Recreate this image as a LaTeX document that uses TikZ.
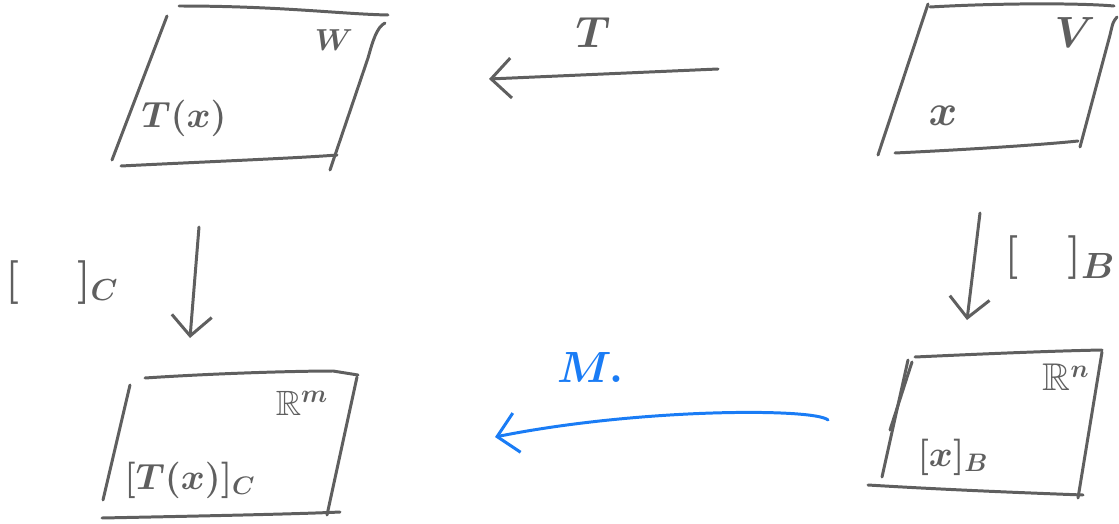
\documentclass[tikz,border=0pt]{standalone}
\usepackage{amssymb}
\usepackage{xcolor}
\usepackage{tikz}
\usetikzlibrary{arrows.meta}

\definecolor{ink}{HTML}{5F5F5F}
\definecolor{blueink}{HTML}{1A7CF5}

\newcommand{\fs}[1]{\fontsize{#1}{#1}\selectfont\boldmath}

\begin{document}
\begin{tikzpicture}[
  x=0.02cm, y=-0.02cm,
  pen/.style={draw=ink, line width=1.7pt, line cap=round, line join=round},
  lab/.style={text=ink, inner sep=0pt},
  arr/.style={pen, -{Straight Barb[length=4mm, width=8mm, line width=1.7pt]}},
  barr/.style={arr, draw=blueink}
]
\useasboundingbox (0,0) rectangle (1119,524);

% W (top left)
\draw[pen] (179,6) .. controls (280,6) and (340,14) .. (388,15);
\draw[pen] (167,16) -- (112,160);
\draw[pen] (385,23) .. controls (377,27) and (373,40) .. (368,58) -- (330,170);
\draw[pen] (121,166) .. controls (200,162) and (300,158) .. (337,155);
\node[lab, font=\fs{16}] (wlab) at (334,40) {$W$};
\node[lab, font=\fs{20}] (tx)   at (184,118) {$T(x)$};

% V (top right)
\draw[pen] (930,7) .. controls (1000,3) and (1080,3) .. (1114,6);
\draw[pen] (928,4) -- (878,155);
\draw[pen] (1117,17) .. controls (1113,22) .. (1110,35) -- (1080,147);
\draw[pen] (895,153) .. controls (980,149) and (1050,144) .. (1078,141);
\node[lab, font=\fs{26}] (vlab) at (1075,33) {$V$};
\node[lab, font=\fs{28}] (x)    at (943,116) {$x$};

% R^m (bottom left)
\draw[pen] (145,378) .. controls (220,373) and (300,371) .. (333,371) -- (358,375);
\draw[pen] (130,385) -- (103,500);
\draw[pen] (357,377) -- (327,515);
\draw[pen] (102,518) .. controls (200,516) and (300,514) .. (340,512);
\node[lab, font=\fs{20}] (rmlab) at (302,403) {$\mathbb{R}^m$};
\node[lab, font=\fs{20}] (txc)   at (190,480) {$[T(x)]_C$};

% R^n (bottom right)
\draw[pen] (915,357) .. controls (980,354) and (1050,351) .. (1102,350);
\draw[pen] (908,360) -- (882,477);
\draw[pen] (912,362) -- (890,430);
\draw[pen] (1102,352) -- (1078,498);
\draw[pen] (868,485) .. controls (950,490) and (1030,493) .. (1083,495);
\node[lab, font=\fs{22}] (rnlab) at (1066,377) {$\mathbb{R}^n$};
\node[lab, font=\fs{20}] (xb)    at (953,457) {$[x]_B$};

% maps
\coordinate (tfrom) at (718,69);
\coordinate (tto)   at (489,79);
\coordinate (cfrom) at (199,227);
\coordinate (cto)   at (190,338);
\coordinate (bfrom) at (980,213);
\coordinate (bto)   at (967,320);
\coordinate (mfrom) at (828,420);
\coordinate (mto)   at (495,437);

\draw[arr]  (tfrom) -- (tto);
\draw[arr]  (cfrom) -- (cto);
\draw[arr]  (bfrom) -- (bto);
\draw[barr] (mfrom) .. controls (815,408) and (640,408) .. (mto);

\node[lab, font=\fs{34}] (tlab) at (593,33) {$T$};
\node[lab, font=\fs{25}] (clab) at (62,283) {$[\;\quad]_C$};
\node[lab, font=\fs{28}] (blab) at (1060,258) {$[\quad]_B$};
\node[lab, text=blueink, font=\fs{26}] (mlab) at (590,368) {$M.$};
\end{tikzpicture}
\end{document}
